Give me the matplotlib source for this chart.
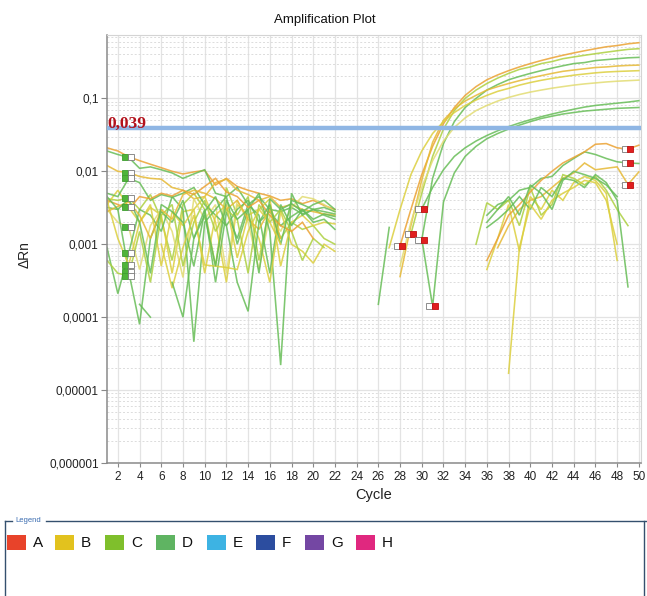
import numpy as np
import matplotlib
matplotlib.use('Agg')
import matplotlib.pyplot as plt
from matplotlib.patches import Rectangle
from matplotlib.lines import Line2D
from matplotlib.ticker import FixedLocator, LogLocator, NullFormatter

plt.rcParams['font.family'] = ['Liberation Sans', 'DejaVu Sans']

N = None
cycles = list(range(1, 51))

# ---- amplifying wells (cycles 1..50, None = no point) ----
well_01 = [0.021, 0.019, 0.0158, 0.014, 0.0125, 0.0112, 0.0100, 0.0092, 0.0098, 0.0103, 0.0065, 0.0080, 0.0062, 0.0055, 0.0050, 0.0046, 0.0040, 0.0042, 0.0036, 0.0040, 0.0034, 0.0030,
           N, N, N, N, N,
           0.00095, 0.003, 0.009, 0.022, 0.045, 0.075, 0.11, 0.145, 0.18, 0.21, 0.24, 0.27, 0.30, 0.33, 0.36, 0.39, 0.42, 0.45, 0.48, 0.51, 0.53, 0.56, 0.58]
well_02 = [0.0042, 0.0040, 0.00435, 0.0030, 0.0048, 0.0022, 0.0006, 0.0035, 0.0050, 0.0030, 0.0005, 0.0060, 0.0025, 0.0045, 0.0006, 0.0035, 0.0012, 0.0020, 0.0016, 0.0018, 0.0012, 0.0010,
           N, N, N, N, N, N,
           0.00138, 0.005, 0.016, 0.038, 0.068, 0.10, 0.13, 0.16, 0.19, 0.22, 0.25, 0.27, 0.30, 0.32, 0.35, 0.37, 0.39, 0.41, 0.43, 0.45, 0.47, 0.48]
well_03 = [0.019, 0.017, 0.0155, 0.0110, 0.0115, 0.0105, 0.0095, 0.0080, 0.0092, 0.0105, 0.0050, 0.0045, 0.0060, 0.0035, 0.0045, 0.0030, 0.0028, 0.0032, 0.0026, 0.0030, 0.0025, 0.0022,
           N, N, N, N, N, N, N,
           0.00115, 0.008, 0.024, 0.048, 0.075, 0.10, 0.13, 0.155, 0.18, 0.20, 0.22, 0.24, 0.26, 0.28, 0.30, 0.31, 0.33, 0.34, 0.35, 0.36, 0.365]
well_04 = [0.012, 0.010, 0.0096, 0.0085, 0.0080, 0.0078, 0.0060, 0.0055, 0.0042, 0.0045, 0.0070, 0.0078, 0.0055, 0.0048, 0.0040, 0.0045, 0.0032, 0.0035, 0.0030, 0.0028, 0.0026, 0.0025,
           N, N, N, N, N,
           0.00036, 0.0018, 0.0076, 0.025, 0.05, 0.072, 0.092, 0.11, 0.13, 0.145, 0.16, 0.175, 0.19, 0.205, 0.22, 0.235, 0.245, 0.255, 0.265, 0.27, 0.278, 0.283, 0.286]
well_05 = [0.0035, 0.0055, 0.00321, 0.0020, 0.0032, 0.0025, 0.0004, 0.0028, 0.0030, 0.0045, 0.0020, 0.0003, 0.0035, 0.0025, 0.0030, 0.0042, 0.0005, 0.0020, 0.0025, 0.0018, 0.0020, 0.0019,
           N, N, N, N,
           0.0009, 0.003, 0.009, 0.019, 0.033, 0.048, 0.064, 0.08, 0.095, 0.11, 0.125, 0.137, 0.152, 0.165, 0.177, 0.188, 0.198, 0.208, 0.216, 0.224, 0.23, 0.234, 0.237, 0.24]
well_06 = [0.0030, 0.0020, 0.00171, 0.00045, 0.0018, 0.0030, 0.0015, 0.00035, 0.0042, 0.0022, 0.0035, 0.0004, 0.0040, 0.0020, 0.00045, 0.0025, 0.0015, 0.0032, 0.0045, 0.0042, 0.0035, 0.0028,
           N, N, N, N, N,
           0.0005, 0.002, 0.006, 0.014, 0.026, 0.04, 0.054, 0.068, 0.08, 0.092, 0.103, 0.113, 0.122, 0.13, 0.138, 0.145, 0.152, 0.158, 0.163, 0.168, 0.172, 0.175, 0.178]
well_07 = [0.0009, 0.00021, 0.000753, 0.0030, 0.0025, 0.0015, 0.0045, 0.0030, 0.000046, 0.0020, 0.0030, 0.0045, 0.0010, 0.0030, 0.0050, 0.0015, 0.000022, 0.0050, 0.0025, 0.0030, 0.0032, 0.0028,
           N, N, N, N, N, N, N,
           0.00305, 0.006, 0.0105, 0.016, 0.021, 0.026, 0.031, 0.036, 0.041, 0.046, 0.051, 0.056, 0.061, 0.066, 0.071, 0.076, 0.080, 0.083, 0.086, 0.089, 0.093]
well_08 = [0.0032, 0.0030, 0.000421, 0.00008, 0.0012, 0.0028, 0.0020, 0.0040, 0.0012, 0.0030, 0.0003, 0.0028, 0.0012, 0.0035, 0.0025, 0.0004, 0.0035, 0.0018, 0.0030, 0.0020, 0.0022, 0.0016,
           N, N, N, N, N, N, N,
           0.0012, 0.00014, 0.0038, 0.0095, 0.016, 0.022, 0.028, 0.033, 0.038, 0.043, 0.048, 0.053, 0.057, 0.061, 0.064, 0.067, 0.069, 0.071, 0.073, 0.074, 0.075]

# ---- non-amplifying wells ----
well_09 = [0.005, 0.0045, 0.0080, 0.0070, 0.0040, 0.0048, 0.0044, 0.0050, 0.0060, 0.0035, 0.0025, 0.0018, 0.0030, 0.0040, 0.0020, 0.0028, 0.0018, 0.0024, 0.0030, 0.0022, 0.0026, 0.0024,
           N, N, N, N, N, N, N, N, N, N, N, N, N,
           0.0025, 0.0035, 0.0040, 0.0055, 0.0060, 0.0080, 0.0085, 0.0120, 0.0150, 0.0185, 0.0170, 0.0150, 0.0135, 0.0130, 0.0128]
well_10 = [0.0040, 0.0012, 0.00052, 0.0020, 0.0035, 0.0005, 0.0028, 0.0018, 0.0030, 0.0004, 0.0025, 0.0035, 0.00065, 0.0025, 0.0012, 0.0003, 0.0028, 0.0010, 0.0008, 0.00055, 0.0010, 0.0008,
           N, N, N, N, N, N, N, N, N, N, N, N, N,
           0.00045, 0.0012, 0.0035, 0.0008, 0.0045, 0.0030, 0.0055, 0.0040, 0.0070, 0.0085, 0.0075, 0.0050, 0.0006, N, N]
well_11 = [0.0006, 0.0004, 0.000368, 0.0015, 0.0003, 0.0025, 0.0035, 0.0005, 0.0020, 0.0040, 0.0015, 0.0030, 0.0022, 0.0004, 0.0035, 0.0020, 0.0030, 0.0015, 0.0006, 0.0012, 0.0009, N,
           N, N, N, N, N, N, N, N, N, N, N, N,
           0.0010, 0.0037, 0.0030, 0.0040, 0.0018, 0.0060, 0.0025, 0.0035, 0.0090, 0.0080, 0.0065, 0.0085, 0.0055, 0.0030, 0.0018, N]
well_12 = [0.0040, 0.0035, 0.0030, 0.0045, 0.0042, 0.0050, 0.0046, 0.0055, 0.0048, 0.0062, 0.0080, 0.0052, 0.0045, 0.0032, 0.0040, 0.0025, 0.0018, 0.0015, 0.0020, 0.0012, N, N,
           N, N, N, N, N, N, N, N, N, N, N, N, N,
           0.0006, 0.0012, 0.0025, 0.0035, 0.0052, 0.0075, 0.0100, 0.0130, 0.0155, 0.0185, 0.0235, 0.0240, 0.0210, 0.0202, 0.0228]
well_13 = [0.0028, 0.0033, 0.0038, 0.0025, 0.0012, 0.0030, 0.0022, 0.0048, 0.0055, 0.0050, 0.0042, 0.0030, 0.0040, 0.0022, 0.0016, 0.0030, 0.0012, N, N, N, N, N,
           N, N, N, N, N, N, N, N, N, N, N, N, N, N,
           0.0009, 0.0018, 0.0030, 0.0040, 0.0045, 0.0060, 0.0080, 0.0095, 0.0130, 0.0105, 0.0110, 0.0115, 0.0066, 0.0098]
well_14 = [0.0045, 0.0030, 0.0042, 0.0020, 0.0004, 0.0035, 0.0028, 0.0020, 0.0005, 0.0028, 0.0045, 0.0018, 0.0003, 0.00012, 0.0020, 0.0035, 0.0010, 0.0040, 0.0035, 0.0030, 0.0028, 0.0026,
           N, N, N, N, N, N, N, N, N, N, N, N, N,
           0.0017, 0.0022, 0.0030, 0.0045, 0.0030, 0.0060, 0.0045, 0.0080, 0.0075, 0.0060, 0.0090, 0.0070, 0.0040, 0.00026, N]
well_15 = [N, N, N, N, N, 0.0010, 0.00025, 0.0009, 0.0025, 0.00052, 0.0005, 0.00048, 0.00045, 0.0015, 0.0030, 0.0020, 0.0010, N, N, N, N, N,
           N, N, N, N, N, N, N, N, N, N, N, N, N, N, N,
           0.000017, 0.0009, 0.0035, 0.0022, 0.0040, 0.0050, 0.0060, 0.0075, 0.0070, 0.0040, 0.0010, N, N]
well_16 = [N, N, N, 0.00015, 0.0001, N, 0.0003, 0.0001, 0.0012, 0.0025, 0.0005, 0.0040, 0.0022, 0.0030, 0.0004, 0.0042, 0.0030, 0.0036, 0.0028, 0.0035, 0.0040, 0.0030,
           N, N, N, 0.00015, 0.0017, N, N, N, N, N, N, N, N,
           0.0020, 0.0030, 0.0045, 0.0025, 0.0065, 0.0050, 0.0030, 0.0075, 0.0100, 0.0090, 0.0080, 0.0065, 0.0045, N, N]

wells = [well_01, well_02, well_03, well_04, well_05, well_06, well_07, well_08,
         well_09, well_10, well_11, well_12, well_13, well_14, well_15, well_16]

orange = '#eba233'
amber = '#e6b935'
yellow = '#dccf3e'
pale = '#e2dc72'
ygreen = '#add040'
green = '#67bd57'
well_colors = [orange, ygreen, green, amber, yellow, pale, green, green,
               green, yellow, ygreen, orange, amber, green, yellow, green]

# baseline-start markers (cycle 3) and baseline-end markers
start_marker_cycle = 3
start_marker_values = [0.0158, 0.00957, 0.00802, 0.00435, 0.00321, 0.00171, 0.000753, 0.00052, 0.000421, 0.000368]
end_marker_cycles = [28, 29, 30, 30, 31, 49, 49, 49]
end_marker_values = [0.00095, 0.00138, 0.00305, 0.00115, 0.00014, 0.0202, 0.0130, 0.0065]

threshold = 0.039
threshold_label = '0,039'

y_ticks = [1e-6, 1e-5, 1e-4, 1e-3, 1e-2, 1e-1]
y_tick_labels = ['0,000001', '0,00001', '0,0001', '0,001', '0,01', '0,1']
x_ticks = list(range(2, 51, 2))

legend_names = ['A', 'B', 'C', 'D', 'E', 'F', 'G', 'H']
legend_colors = ['#e8432a', '#e2c21e', '#7fbf2c', '#5fb462', '#3db3e3', '#2c4d9f', '#7447a3', '#e0287f']

W, H = 647, 596
fig = plt.figure(figsize=(W / 100, H / 100), dpi=100)
fig.patch.set_facecolor('white')
ax = fig.add_axes([107 / W, 1 - 463 / H, 534 / W, 428 / H])
ax.set_yscale('log')
ax.set_xlim(1, 50.2)
ax.set_ylim(1e-6, 0.74)

# grid
ax.yaxis.set_major_locator(FixedLocator(y_ticks))
ax.set_yticklabels(y_tick_labels)
ax.yaxis.set_minor_locator(LogLocator(base=10, subs=np.arange(2, 10), numticks=20))
ax.yaxis.set_minor_formatter(NullFormatter())
ax.set_xticks(x_ticks)
ax.set_xticklabels([str(t) for t in x_ticks])
ax.grid(True, which='major', axis='both', color='#e3e3e3', lw=0.9, ls='-')
ax.grid(True, which='minor', axis='y', color='#dcdcdc', lw=0.7, ls=(0, (2, 2)))
ax.set_axisbelow(True)
ax.tick_params(axis='y', which='minor', length=0)
ax.tick_params(axis='y', which='major', length=4, color='#888888', labelsize=8.5, pad=2, labelcolor='#222222')
ax.tick_params(axis='x', which='major', length=3, color='#888888', labelsize=8.5, pad=3, labelcolor='#222222')
for side in ['left', 'bottom']:
    ax.spines[side].set_color('#8a8a8a')
    ax.spines[side].set_linewidth(1.1)
for side in ['top', 'right']:
    ax.spines[side].set_color('#d4d4d4')
    ax.spines[side].set_linewidth(0.8)

x = np.array(cycles, dtype=float)
for vals, col in zip(wells, well_colors):
    y = np.array(vals, dtype=float)
    ax.plot(x, y, color=col, lw=1.15, alpha=0.85, solid_joinstyle='miter')

ax.axhline(threshold, color='#8fb6e4', lw=3.2, zorder=5)
ax.text(1.05, threshold * 1.02, threshold_label, color='#b3121c', fontsize=12.5,
        fontweight='bold', family=['Liberation Serif', 'DejaVu Serif'],
        ha='left', va='baseline', zorder=6)

ms = 4.6
for v in start_marker_values:
    ax.plot([start_marker_cycle - 0.33], [v], 's', ms=ms, mfc='#4fb43a', mec='#3e9e30', mew=0.6, zorder=7)
    ax.plot([start_marker_cycle + 0.17], [v], 's', ms=ms, mfc='white', mec='#7a7a7a', mew=0.6, zorder=7)
for c, v in zip(end_marker_cycles, end_marker_values):
    ax.plot([c - 0.3], [v], 's', ms=ms, mfc='white', mec='#7a7a7a', mew=0.6, zorder=7)
    ax.plot([c + 0.2], [v], 's', ms=ms, mfc='#e01f1f', mec='#c01010', mew=0.6, zorder=7)

fig.text(325 / W, 1 - 20 / H, 'Amplification Plot', ha='center', va='center', fontsize=9.5, color='#111111')
fig.text(25 / W, 1 - 255 / H, 'ΔRn', ha='center', va='center', rotation=90, fontsize=10, color='#222222')
fig.text(374 / W, 1 - 495 / H, 'Cycle', ha='center', va='center', fontsize=10.5, color='#222222')

# legend panel
bc = '#34506e'
fig.add_artist(Line2D([5 / W, 12 / W], [1 - 521 / H, 1 - 521 / H], color=bc, lw=1.0))
fig.add_artist(Line2D([46 / W, 1.0], [1 - 521 / H, 1 - 521 / H], color=bc, lw=1.0))
fig.add_artist(Line2D([5 / W, 5 / W], [1 - 521 / H, 0.0], color=bc, lw=1.0))
fig.add_artist(Line2D([644 / W, 644 / W], [1 - 521 / H, 0.0], color=bc, lw=1.0))
fig.text(15 / W, 1 - 521 / H, 'Legend', ha='left', va='center', fontsize=5.5, color='#3a6cb0')
x_starts = [7, 55, 105, 156, 207, 256, 305, 356]
for xs, name, col in zip(x_starts, legend_names, legend_colors):
    fig.add_artist(Rectangle((xs / W, 1 - 550 / H), 19 / W, 15 / H, facecolor=col, edgecolor='none',
                             transform=fig.transFigure))
    fig.text((xs + 26) / W, 1 - 543 / H, name, ha='left', va='center', fontsize=11, color='#111111')

fig.savefig('out.png', dpi=100, facecolor='white')
